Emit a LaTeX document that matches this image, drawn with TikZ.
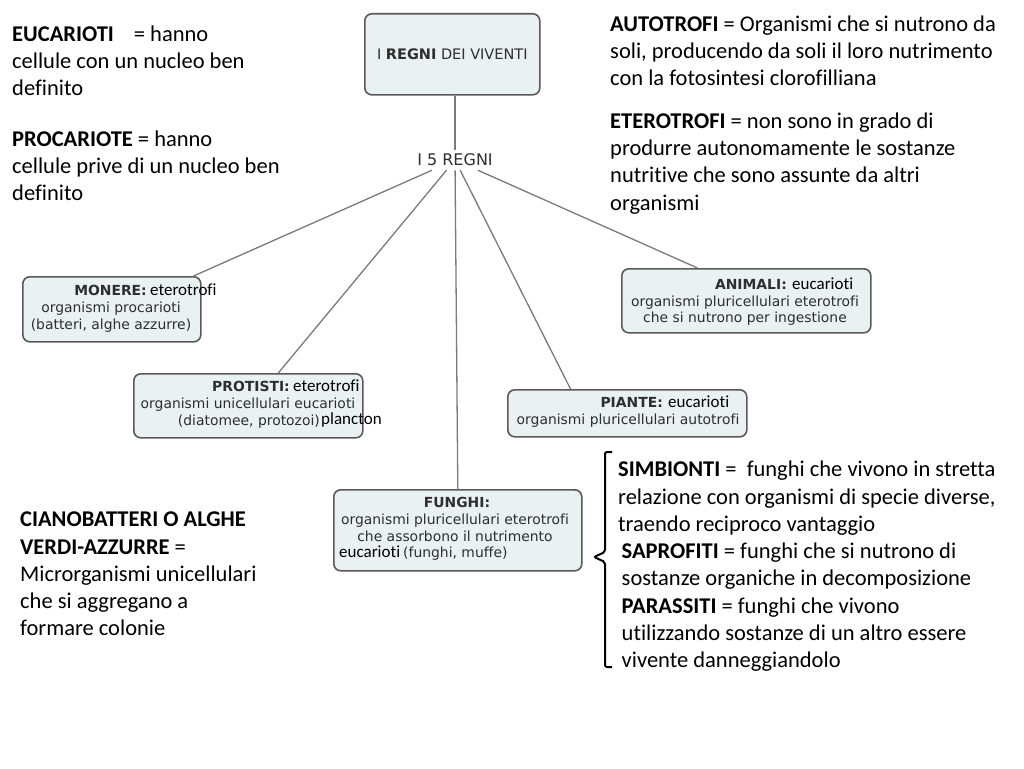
\documentclass[tikz,border=0pt]{standalone}
\usepackage{fontspec}
\setmainfont{Carlito}[Ligatures=NoCommon]
\newfontfamily\vfont{DejaVu Sans}[Ligatures=NoCommon]
\usetikzlibrary{calc}
\definecolor{boxfill}{HTML}{EAF1F3}
\definecolor{boxdraw}{HTML}{595959}
\definecolor{boxtext}{HTML}{2E2E2E}
\definecolor{connc}{HTML}{7A7A7A}
\begin{document}
\begin{tikzpicture}[x=1pt,y=-1pt,
  kbox/.style={draw=boxdraw, fill=boxfill, line width=1.6pt, rounded corners=7pt, inner sep=0pt, anchor=north west},
  btxt/.style={font=\vfont\fontsize{13.9}{16.5}\selectfont, text=boxtext, inner sep=0pt, anchor=base},
  ctxt/.style={font=\fontsize{17}{20}\selectfont, text=black, inner sep=0pt, anchor=base west},
  note/.style={font=\fontsize{22.5}{27.3}\selectfont, align=left, inner sep=0pt, anchor=north west},
  conn/.style={draw=connc, line width=1.3pt}]
\useasboundingbox[fill=white] (0,0) rectangle (1024,768);

% boxes
\node[kbox, minimum width=175pt, minimum height=81pt, font=\vfont\fontsize{14.5}{17}\selectfont, text=boxtext] (top) at (364,13) {I \textbf{REGNI} DEI VIVENTI};
\node[font=\vfont\fontsize{16}{19}\selectfont, text=boxtext, inner sep=4pt] (r5) at (455,160) {I 5 REGNI};

\node[kbox, minimum width=178pt, minimum height=65pt] (monere) at (22,276) {};
\node[btxt, anchor=base east] (monere-t) at (147,295) {\textbf{MONERE:}};
\node[ctxt] (monere-e) at (150,295) {eterotrofi};
\node[btxt] (monere-a) at (111,312) {organismi procarioti};
\node[btxt] (monere-b) at (111,329) {(batteri, alghe azzurre)};

\node[kbox, minimum width=229pt, minimum height=64pt] (prot) at (133,373) {};
\node[btxt, anchor=base east] (prot-t) at (290,391) {\textbf{PROTISTI:}};
\node[ctxt] (prot-e) at (293,391) {eterotrofi};
\node[btxt] (prot-a) at (248,408) {organismi unicellulari eucarioti};
\node[btxt, anchor=base east] (prot-b) at (320,425) {(diatomee, protozoi)};
\node[ctxt] (prot-p) at (321,424) {plancton};

\node[kbox, minimum width=249pt, minimum height=64pt] (animali) at (621,268) {};
\node[btxt, anchor=base east] (anim-t) at (787,289) {\textbf{ANIMALI:}};
\node[ctxt] (anim-e) at (792,289) {eucarioti};
\node[btxt] (anim-a) at (745,306) {organismi pluricellulari eterotrofi};
\node[btxt] (anim-b) at (745,322.5) {che si nutrono per ingestione};

\node[kbox, minimum width=239pt, minimum height=47pt] (piante) at (507,389) {};
\node[btxt, anchor=base east] (pian-t) at (663,407) {\textbf{PIANTE:}};
\node[ctxt] (pian-e) at (668,407) {eucarioti};
\node[btxt] (pian-a) at (628,424) {organismi pluricellulari autotrofi};

\node[kbox, minimum width=248pt, minimum height=81pt] (funghi) at (333,489) {};
\node[btxt] (fung-t) at (457,507) {\textbf{FUNGHI:}};
\node[btxt] (fung-a) at (455,524.5) {organismi pluricellulari eterotrofi};
\node[btxt] (fung-b) at (455,541) {che assorbono il nutrimento};
\node[ctxt] (fung-e) at (339,557) {eucarioti};
\node[btxt, anchor=base west] (fung-c) at (403,557) {(funghi, muffe)};

% connectors
\draw[conn] (top.south -| r5) -- (r5.north);
\draw[conn] (r5) -- ($(monere.north west)!0.955!(monere.north east)$);
\draw[conn] (r5) -- ($(prot.north west)!0.63!(prot.north east)$);
\draw[conn] (r5) -- (funghi.north);
\draw[conn] (r5) -- ($(piante.north west)!0.264!(piante.north east)$);
\draw[conn] (r5) -- ($(animali.north west)!0.305!(animali.north east)$);

% notes
\node[note] (euc) at (12,21.9) {\strut\textbf{EUCARIOTI}\hspace{20pt}= hanno\\cellule con un nucleo ben\\definito};
\node[note] (pro) at (12,126.9) {\strut\textbf{PROCARIOTE} = hanno\\cellule prive di un nucleo ben\\definito};
\node[note] (auto) at (610,11.9) {\strut\textbf{AUTOTROFI} = Organismi che si nutrono da\\soli, producendo da soli il loro nutrimento\\con la fotosintesi clorofilliana};
\node[note] (etero) at (610,108.9) {\strut\textbf{ETEROTROFI} = non sono in grado di\\produrre autonomamente le sostanze\\nutritive che sono assunte da altri\\organismi};
\node[note] (ciano) at (20,507.4) {\strut\textbf{CIANOBATTERI O ALGHE}\\\textbf{VERDI-AZZURRE} =\\Microrganismi unicellulari\\che si aggregano a\\formare colonie};
\node[note] (simb) at (618,457.4) {\strut\textbf{SIMBIONTI} = \ funghi che vivono in stretta\\relazione con organismi di specie diverse,\\traendo reciproco vantaggio};
\node[note] (sapr) at (621.5,539.2) {\strut\textbf{SAPROFITI} = funghi che si nutrono di\\sostanze organiche in decomposizione\\\textbf{PARASSITI} = funghi che vivono\\utilizzando sostanze di un altro essere\\vivente danneggiandolo};

% brace
\draw[line width=2pt, rounded corners=2pt] (612,452) -- (605,452) -- (605,552) -- (594,557) -- (605,562) -- (605,667) -- (612,667);
\end{tikzpicture}
\end{document}
